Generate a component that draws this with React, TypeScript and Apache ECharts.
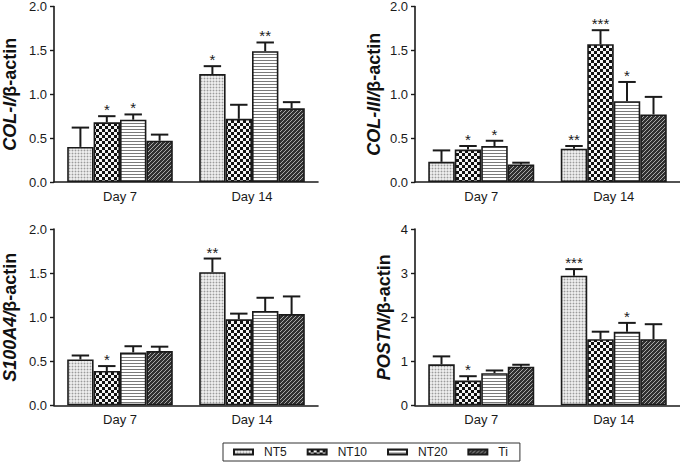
import React, { useEffect, useRef } from 'react';
import * as echarts from 'echarts';

const categories = ['Day 7', 'Day 14'];
const groups = ['NT5', 'NT10', 'NT20', 'Ti'];

// Panel 1: COL-I / β-actin  (rows: NT5, NT10, NT20, Ti; cols: Day 7, Day 14)
const col1Mean = [[0.40, 1.23], [0.68, 0.72], [0.71, 1.49], [0.47, 0.84]];
const col1Sem = [[0.22, 0.09], [0.07, 0.16], [0.06, 0.10], [0.07, 0.07]];
const col1Stars = [['', '*'], ['*', ''], ['*', '**'], ['', '']];

// Panel 2: COL-III / β-actin
const col3Mean = [[0.23, 0.38], [0.37, 1.57], [0.41, 0.92], [0.20, 0.77]];
const col3Sem = [[0.13, 0.03], [0.04, 0.16], [0.06, 0.22], [0.02, 0.20]];
const col3Stars = [['', '**'], ['*', '***'], ['*', '*'], ['', '']];

// Panel 3: S100A4 / β-actin
const s100Mean = [[0.52, 1.51], [0.39, 0.975], [0.60, 1.07], [0.615, 1.035]];
const s100Sem = [[0.045, 0.155], [0.055, 0.065], [0.07, 0.15], [0.05, 0.20]];
const s100Stars = [['', '**'], ['*', ''], ['', ''], ['', '']];

// Panel 4: POSTN / β-actin
const postnMean = [[0.93, 2.94], [0.56, 1.50], [0.73, 1.67], [0.875, 1.50]];
const postnSem = [[0.18, 0.15], [0.10, 0.17], [0.06, 0.20], [0.045, 0.34]];
const postnStars = [['', '***'], ['*', ''], ['', '*'], ['', '']];

const panelNames = [
  '{i|COL-I/}{b|β-actin}',
  '{i|COL-III/}{b|β-actin}',
  '{i|S100A4/}{b|β-actin}',
  '{i|POSTN/}{b|β-actin}',
];
const yMax = [2, 2, 2, 4];
const yInterval = [0.5, 0.5, 0.5, 1];

const FONT = '"Liberation Sans", Arial, Helvetica, sans-serif';
const INK = '#1a1a1a';

function makeTile(w: number, h: number, draw: (ctx: CanvasRenderingContext2D) => void) {
  const c = document.createElement('canvas');
  c.width = w;
  c.height = h;
  const ctx = c.getContext('2d') as CanvasRenderingContext2D;
  draw(ctx);
  return { image: c.toDataURL(), repeat: 'repeat', imageWidth: w, imageHeight: h } as any;
}

function makePatterns() {
  const nt5 = makeTile(3, 3, (ctx) => {
    ctx.fillStyle = '#ececec';
    ctx.fillRect(0, 0, 3, 3);
    ctx.fillStyle = '#d2d2d2';
    ctx.fillRect(0, 0, 3, 1);
    ctx.fillRect(0, 0, 1, 3);
    ctx.fillStyle = '#9c9c9c';
    ctx.fillRect(0, 0, 1, 1);
  });
  const nt10 = makeTile(6, 6, (ctx) => {
    ctx.fillStyle = '#111111';
    ctx.fillRect(0, 0, 6, 6);
    ctx.fillStyle = '#f4f4f4';
    ctx.fillRect(0, 0, 3, 3);
    ctx.fillRect(3, 3, 3, 3);
  });
  const nt20 = makeTile(4, 3, (ctx) => {
    ctx.fillStyle = '#ffffff';
    ctx.fillRect(0, 0, 4, 3);
    ctx.fillStyle = '#7a7a7a';
    ctx.fillRect(0, 0, 4, 1);
  });
  const ti = makeTile(4, 4, (ctx) => {
    ctx.fillStyle = '#303030';
    ctx.fillRect(0, 0, 4, 4);
    ctx.fillStyle = '#a8a8a8';
    ctx.fillRect(0, 3, 1, 1);
    ctx.fillRect(1, 2, 1, 1);
    ctx.fillRect(2, 1, 1, 1);
    ctx.fillRect(3, 0, 1, 1);
  });
  return [nt5, nt10, nt20, ti];
}

export default function App() {
  const ref = useRef<HTMLDivElement>(null);

  useEffect(() => {
    if (!ref.current) return;
    const chart = echarts.init(ref.current, null, { renderer: 'svg' });
    const patterns = makePatterns();

    const means = [col1Mean, col3Mean, s100Mean, postnMean];
    const sems = [col1Sem, col3Sem, s100Sem, postnSem];
    const stars = [col1Stars, col3Stars, s100Stars, postnStars];
    const nameGaps = [35, 32, 35, 22];

    const grids = [
      { left: 52, top: 5.3, width: 266, height: 176.7 },
      { left: 415, top: 5.3, width: 265, height: 176.7 },
      { left: 52, top: 229, width: 266, height: 176.3 },
      { left: 415, top: 229, width: 265, height: 176.3 },
    ];

    const xAxes = grids.map((_, p) => ({
      type: 'category',
      gridIndex: p,
      data: categories,
      axisLine: { lineStyle: { color: INK, width: 1.6 } },
      axisTick: { alignWithLabel: true, length: 5, lineStyle: { color: INK, width: 1.4 } },
      axisLabel: { fontSize: 13, color: INK, margin: 8, fontFamily: FONT },
    }));

    const yAxes = grids.map((_, p) => ({
      type: 'value',
      gridIndex: p,
      min: 0,
      max: yMax[p],
      interval: yInterval[p],
      splitLine: { show: false },
      axisLine: { show: true, lineStyle: { color: INK, width: 1.6 } },
      axisTick: { show: true, length: 4, lineStyle: { color: INK, width: 1.4 } },
      axisLabel: {
        fontSize: 13,
        color: INK,
        margin: 7,
        fontFamily: FONT,
        formatter: (v: number) => (yInterval[p] >= 1 ? String(v) : v.toFixed(1)),
      },
      name: panelNames[p],
      nameLocation: 'middle',
      nameGap: nameGaps[p],
      nameTextStyle: {
        fontSize: 18,
        fontWeight: 'bold',
        color: '#111',
        fontFamily: FONT,
        rich: {
          i: { fontStyle: 'italic', fontWeight: 'bold', fontSize: 18, color: '#111', fontFamily: FONT },
          b: { fontWeight: 'bold', fontSize: 18, color: '#111', fontFamily: FONT },
        },
      },
    }));

    const series: any[] = [];
    for (let p = 0; p < 4; p++) {
      for (let s = 0; s < 4; s++) {
        series.push({
          type: 'bar',
          name: groups[s],
          xAxisIndex: p,
          yAxisIndex: p,
          data: means[p][s],
          barGap: '0%',
          barCategoryGap: '20%',
          emphasis: { disabled: true },
          itemStyle: { color: patterns[s], borderColor: INK, borderWidth: 1.6 },
          z: 2,
        });
      }
      const errData: number[][] = [];
      for (let s = 0; s < 4; s++) {
        for (let c = 0; c < 2; c++) {
          errData.push([c, s, means[p][s][c], means[p][s][c] + sems[p][s][c]]);
        }
      }
      const pStars = stars[p];
      series.push({
        type: 'custom',
        xAxisIndex: p,
        yAxisIndex: p,
        z: 5,
        silent: true,
        data: errData,
        encode: { x: 0, y: 3 },
        renderItem: (params: any, api: any) => {
          const c = api.value(0);
          const s = api.value(1);
          const m = api.value(2);
          const t = api.value(3);
          const p0 = api.coord([c, m]);
          const p1 = api.coord([c, t]);
          const band = api.size([1, 0])[0];
          const bw = band * 0.2;
          const x = p0[0] + (s - 1.5) * bw;
          const cap = bw * 0.33;
          const star = pStars[s][c];
          const children: any[] = [
            { type: 'line', shape: { x1: x, y1: p0[1], x2: x, y2: p1[1] }, style: { stroke: INK, lineWidth: 2 } },
            { type: 'line', shape: { x1: x - cap, y1: p1[1], x2: x + cap, y2: p1[1] }, style: { stroke: INK, lineWidth: 2 } },
          ];
          if (star) {
            children.push({
              type: 'text',
              style: {
                text: star,
                x: x,
                y: p1[1] + 1,
                align: 'center',
                verticalAlign: 'bottom',
                fontSize: 15,
                fontFamily: FONT,
                fill: INK,
              },
            });
          }
          return { type: 'group', children };
        },
      });
    }

    chart.setOption({
      animation: false,
      textStyle: { fontFamily: FONT },
      grid: grids,
      xAxis: xAxes,
      yAxis: yAxes,
      legend: {
        left: 223,
        top: 443,
        data: groups,
        icon: 'rect',
        itemWidth: 19,
        itemHeight: 5,
        itemGap: 20,
        borderColor: '#333',
        borderWidth: 1,
        padding: [3, 12, 3, 10],
        selectedMode: false,
        textStyle: { fontSize: 12, color: INK, fontFamily: FONT, padding: [0, 0, 0, 6] },
      },
      series,
    });

    return () => {
      chart.dispose();
    };
  }, []);

  return (
    <div
      ref={ref}
      style={{ position: 'absolute', left: 0, top: 0, width: 680, height: 470, background: '#fff' }}
    />
  );
}
